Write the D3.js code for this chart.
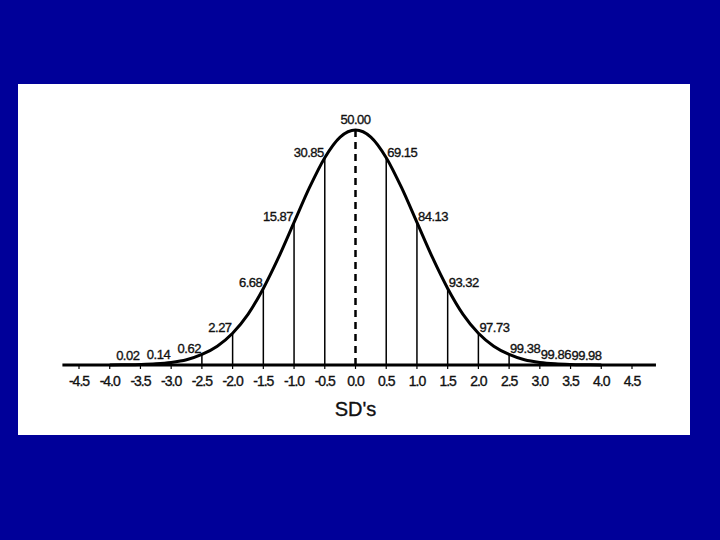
<!DOCTYPE html>
<html>
<head>
<meta charset="utf-8">
<script src="https://cdn.jsdelivr.net/npm/d3@7"></script>
<style>
  html, body { margin: 0; padding: 0; background: #000099; }
  svg { display: block; }
  text { font-family: "Liberation Sans", Arial, sans-serif; fill: #111; stroke: #111; stroke-width: 0.35; }
</style>
</head>
<body>
<div id="container"></div>
<script>
// curve heights (density), every 0.25 SD
const curveZ = d3.range(-4, 4.001, 0.25);
const curveDensity = [
  0.0001, 0.0004, 0.0009, 0.002, 0.0044, 0.009, 0.018, 0.032,
  0.054, 0.086, 0.130, 0.183, 0.242, 0.301, 0.352, 0.387,
  0.399,
  0.387, 0.352, 0.301, 0.242, 0.183, 0.130, 0.086, 0.054,
  0.032, 0.018, 0.009, 0.0044, 0.002, 0.0009, 0.0004, 0.0001
];

// cumulative percentages printed along the curve
const pctZ = [-3.5, -3.0, -2.5, -2.0, -1.5, -1.0, -0.5, 0.0, 0.5, 1.0, 1.5, 2.0, 2.5, 3.0, 3.5];
const pctLabels = ["0.02", "0.14", "0.62", "2.27", "6.68", "15.87", "30.85", "50.00",
                   "69.15", "84.13", "93.32", "97.73", "99.38", "99.86", "99.98"];

// vertical dividers
const dividerZ = [-2.5, -2.0, -1.5, -1.0, -0.5, 0.5, 1.0, 1.5, 2.0, 2.5];

// x axis ticks
const tickValues = d3.range(-4.5, 4.501, 0.5);
const tickLabels = ["-4.5", "-4.0", "-3.5", "-3.0", "-2.5", "-2.0", "-1.5", "-1.0", "-0.5", "0.0",
                    "0.5", "1.0", "1.5", "2.0", "2.5", "3.0", "3.5", "4.0", "4.5"];
const axisTitle = "SD's";

const width = 720, height = 540;

const svg = d3.select('#container').append('svg')
  .attr('width', width)
  .attr('height', height);

svg.append('rect')
  .attr('x', 18).attr('y', 84)
  .attr('width', 672).attr('height', 351)
  .attr('fill', '#fff');

const x = d3.scaleLinear().domain([-4.5, 4.5]).range([79, 632]);
const y = d3.scaleLinear().domain([0, 0.399]).range([365, 130]);

function densityAt(z) {
  const i = Math.round((z - curveZ[0]) / 0.25);
  return curveDensity[i];
}

// axis line
svg.append('line')
  .attr('x1', x(-4.77)).attr('x2', x(4.89))
  .attr('y1', y(0)).attr('y2', y(0))
  .attr('stroke', '#000').attr('stroke-width', 3);

// small ticks under the axis
svg.append('g').selectAll('line')
  .data(tickValues)
  .join('line')
  .attr('x1', d => x(d)).attr('x2', d => x(d))
  .attr('y1', y(0)).attr('y2', y(0) + 4)
  .attr('stroke', '#000').attr('stroke-width', 1.2);

// tick labels
svg.append('g').selectAll('text')
  .data(tickValues)
  .join('text')
  .attr('x', d => x(d))
  .attr('y', y(0) + 21)
  .attr('text-anchor', 'middle')
  .attr('font-size', 14)
  .attr('letter-spacing', -1)
  .text((d, i) => tickLabels[i]);

svg.append('text')
  .attr('x', x(0))
  .attr('y', 416)
  .attr('text-anchor', 'middle')
  .attr('font-size', 20)
  .text(axisTitle);

// dividers from baseline to the curve
svg.append('g').selectAll('line')
  .data(dividerZ)
  .join('line')
  .attr('x1', d => x(d)).attr('x2', d => x(d))
  .attr('y1', y(0)).attr('y2', d => y(densityAt(d)))
  .attr('stroke', '#000').attr('stroke-width', 1.5);

// dashed mean line
svg.append('line')
  .attr('x1', x(0)).attr('x2', x(0))
  .attr('y1', y(0)).attr('y2', y(densityAt(0)))
  .attr('stroke', '#000').attr('stroke-width', 2.5)
  .attr('stroke-dasharray', '7,5');

// the curve
const line = d3.line()
  .x((d, i) => x(curveZ[i]))
  .y(d => y(d))
  .curve(d3.curveMonotoneX);

svg.append('path')
  .datum(curveDensity)
  .attr('d', line)
  .attr('fill', 'none')
  .attr('stroke', '#000')
  .attr('stroke-width', 3);

// percentage labels
svg.append('g').selectAll('text')
  .data(pctZ)
  .join('text')
  .attr('x', d => d < 0 ? x(d) - 1 : d > 0 ? x(d) + 1 : x(d))
  .attr('y', d => {
    const yy = d === 0 ? y(densityAt(d)) - 6 : y(densityAt(d)) - 1;
    return Math.min(yy, y(0) - 5 - (3.5 - Math.abs(d)) * 3);
  })
  .attr('text-anchor', d => d < 0 ? 'end' : d > 0 ? 'start' : 'middle')
  .attr('font-size', 13)
  .attr('letter-spacing', -0.5)
  .text((d, i) => pctLabels[i]);
</script>
</body>
</html>
